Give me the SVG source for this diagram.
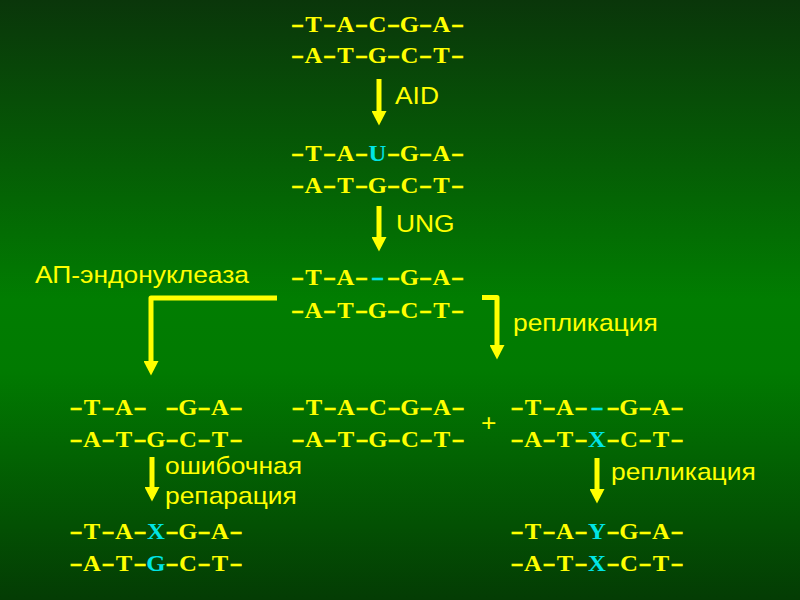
<svg xmlns="http://www.w3.org/2000/svg" width="800" height="600" viewBox="0 0 800 600">
<defs>
<linearGradient id="bg" x1="0" y1="0" x2="0" y2="1">
<stop offset="0" stop-color="#0a360a"/>
<stop offset="0.5" stop-color="#017d01"/>
<stop offset="0.62" stop-color="#017a01"/>
<stop offset="1" stop-color="#043c04"/>
</linearGradient>
<marker id="ah" markerUnits="userSpaceOnUse" markerWidth="15" markerHeight="15" viewBox="0 0 15 15" refX="0" refY="7.5" orient="auto">
<path d="M0,0 L14.5,7.5 L0,15 Z" fill="#ffff00"/>
</marker>
<style>
.dna{font-family:"Liberation Serif","Times New Roman",serif;font-weight:bold;font-size:22.5px;fill:#ffff00;text-anchor:middle}
.h{font-size:24px;stroke:#ffff00;stroke-width:0.7}
.c{fill:#00e5e5}
.h.c{stroke:#00e5e5}
.lbl{font-family:"Liberation Sans",Arial,sans-serif;font-size:24px;fill:#ffff00}
.conn{fill:none;stroke:#ffff00;stroke-width:5;stroke-linejoin:round}
</style>
</defs>
<rect width="800" height="600" fill="url(#bg)"/>
<g id="connectors">
<path class="conn" d="M379,79 V111" marker-end="url(#ah)"/>
<path class="conn" d="M379,206 V237" marker-end="url(#ah)"/>
<path class="conn" d="M277,298 H151 V361" marker-end="url(#ah)"/>
<path class="conn" d="M482,297.5 H497 V345" marker-end="url(#ah)"/>
<path class="conn" d="M152,457 V487" marker-end="url(#ah)"/>
<path class="conn" d="M597,458 V489" marker-end="url(#ah)"/>
</g>
<g id="n1">
<text class="dna" transform="translate(297.5,32) scale(1.1,1)" x="0 14.55 29.09 43.64 58.18 72.73 87.27 101.82 116.36 130.91 145.45"><tspan class="h" textLength="11.5" lengthAdjust="spacingAndGlyphs">-</tspan>T<tspan class="h" textLength="11.5" lengthAdjust="spacingAndGlyphs">-</tspan>A<tspan class="h" textLength="11.5" lengthAdjust="spacingAndGlyphs">-</tspan>C<tspan class="h" textLength="11.5" lengthAdjust="spacingAndGlyphs">-</tspan>G<tspan class="h" textLength="11.5" lengthAdjust="spacingAndGlyphs">-</tspan>A<tspan class="h" textLength="11.5" lengthAdjust="spacingAndGlyphs">-</tspan></text>
<text class="dna" transform="translate(297.5,63) scale(1.1,1)" x="0 14.55 29.09 43.64 58.18 72.73 87.27 101.82 116.36 130.91 145.45"><tspan class="h" textLength="11.5" lengthAdjust="spacingAndGlyphs">-</tspan>A<tspan class="h" textLength="11.5" lengthAdjust="spacingAndGlyphs">-</tspan>T<tspan class="h" textLength="11.5" lengthAdjust="spacingAndGlyphs">-</tspan>G<tspan class="h" textLength="11.5" lengthAdjust="spacingAndGlyphs">-</tspan>C<tspan class="h" textLength="11.5" lengthAdjust="spacingAndGlyphs">-</tspan>T<tspan class="h" textLength="11.5" lengthAdjust="spacingAndGlyphs">-</tspan></text>
</g>
<g id="l1"><text class="lbl" transform="translate(395,104) scale(1.1,1)">AID</text></g>
<g id="n2">
<text class="dna" transform="translate(297.5,161) scale(1.1,1)" x="0 14.55 29.09 43.64 58.18 72.73 87.27 101.82 116.36 130.91 145.45"><tspan class="h" textLength="11.5" lengthAdjust="spacingAndGlyphs">-</tspan>T<tspan class="h" textLength="11.5" lengthAdjust="spacingAndGlyphs">-</tspan>A<tspan class="h" textLength="11.5" lengthAdjust="spacingAndGlyphs">-</tspan><tspan class="c">U</tspan><tspan class="h" textLength="11.5" lengthAdjust="spacingAndGlyphs">-</tspan>G<tspan class="h" textLength="11.5" lengthAdjust="spacingAndGlyphs">-</tspan>A<tspan class="h" textLength="11.5" lengthAdjust="spacingAndGlyphs">-</tspan></text>
<text class="dna" transform="translate(297.5,193) scale(1.1,1)" x="0 14.55 29.09 43.64 58.18 72.73 87.27 101.82 116.36 130.91 145.45"><tspan class="h" textLength="11.5" lengthAdjust="spacingAndGlyphs">-</tspan>A<tspan class="h" textLength="11.5" lengthAdjust="spacingAndGlyphs">-</tspan>T<tspan class="h" textLength="11.5" lengthAdjust="spacingAndGlyphs">-</tspan>G<tspan class="h" textLength="11.5" lengthAdjust="spacingAndGlyphs">-</tspan>C<tspan class="h" textLength="11.5" lengthAdjust="spacingAndGlyphs">-</tspan>T<tspan class="h" textLength="11.5" lengthAdjust="spacingAndGlyphs">-</tspan></text>
</g>
<g id="l2"><text class="lbl" transform="translate(396,232) scale(1.1,1)">UNG</text></g>
<g id="n3">
<text class="dna" transform="translate(297.5,285) scale(1.1,1)" x="0 14.55 29.09 43.64 58.18 72.73 87.27 101.82 116.36 130.91 145.45"><tspan class="h" textLength="11.5" lengthAdjust="spacingAndGlyphs">-</tspan>T<tspan class="h" textLength="11.5" lengthAdjust="spacingAndGlyphs">-</tspan>A<tspan class="h" textLength="11.5" lengthAdjust="spacingAndGlyphs">-</tspan><tspan class="h c" textLength="11.5" lengthAdjust="spacingAndGlyphs">-</tspan><tspan class="h" textLength="11.5" lengthAdjust="spacingAndGlyphs">-</tspan>G<tspan class="h" textLength="11.5" lengthAdjust="spacingAndGlyphs">-</tspan>A<tspan class="h" textLength="11.5" lengthAdjust="spacingAndGlyphs">-</tspan></text>
<text class="dna" transform="translate(297.5,318) scale(1.1,1)" x="0 14.55 29.09 43.64 58.18 72.73 87.27 101.82 116.36 130.91 145.45"><tspan class="h" textLength="11.5" lengthAdjust="spacingAndGlyphs">-</tspan>A<tspan class="h" textLength="11.5" lengthAdjust="spacingAndGlyphs">-</tspan>T<tspan class="h" textLength="11.5" lengthAdjust="spacingAndGlyphs">-</tspan>G<tspan class="h" textLength="11.5" lengthAdjust="spacingAndGlyphs">-</tspan>C<tspan class="h" textLength="11.5" lengthAdjust="spacingAndGlyphs">-</tspan>T<tspan class="h" textLength="11.5" lengthAdjust="spacingAndGlyphs">-</tspan></text>
</g>
<g id="l3"><text class="lbl" transform="translate(35,283) scale(1.1,1)">АП-эндонуклеаза</text></g>
<g id="l4"><text class="lbl" transform="translate(513,331) scale(1.1,1)">репликация</text></g>
<g id="n4">
<text class="dna" transform="translate(76,415) scale(1.1,1)" x="0 14.55 29.09 43.64 58.18 72.73 87.27 101.82 116.36 130.91 145.45"><tspan class="h" textLength="11.5" lengthAdjust="spacingAndGlyphs">-</tspan>T<tspan class="h" textLength="11.5" lengthAdjust="spacingAndGlyphs">-</tspan>A<tspan class="h" textLength="11.5" lengthAdjust="spacingAndGlyphs">-</tspan> <tspan class="h" textLength="11.5" lengthAdjust="spacingAndGlyphs">-</tspan>G<tspan class="h" textLength="11.5" lengthAdjust="spacingAndGlyphs">-</tspan>A<tspan class="h" textLength="11.5" lengthAdjust="spacingAndGlyphs">-</tspan></text>
<text class="dna" transform="translate(76,447) scale(1.1,1)" x="0 14.55 29.09 43.64 58.18 72.73 87.27 101.82 116.36 130.91 145.45"><tspan class="h" textLength="11.5" lengthAdjust="spacingAndGlyphs">-</tspan>A<tspan class="h" textLength="11.5" lengthAdjust="spacingAndGlyphs">-</tspan>T<tspan class="h" textLength="11.5" lengthAdjust="spacingAndGlyphs">-</tspan>G<tspan class="h" textLength="11.5" lengthAdjust="spacingAndGlyphs">-</tspan>C<tspan class="h" textLength="11.5" lengthAdjust="spacingAndGlyphs">-</tspan>T<tspan class="h" textLength="11.5" lengthAdjust="spacingAndGlyphs">-</tspan></text>
</g>
<g id="n5">
<text class="dna" transform="translate(298,415) scale(1.1,1)" x="0 14.55 29.09 43.64 58.18 72.73 87.27 101.82 116.36 130.91 145.45"><tspan class="h" textLength="11.5" lengthAdjust="spacingAndGlyphs">-</tspan>T<tspan class="h" textLength="11.5" lengthAdjust="spacingAndGlyphs">-</tspan>A<tspan class="h" textLength="11.5" lengthAdjust="spacingAndGlyphs">-</tspan>C<tspan class="h" textLength="11.5" lengthAdjust="spacingAndGlyphs">-</tspan>G<tspan class="h" textLength="11.5" lengthAdjust="spacingAndGlyphs">-</tspan>A<tspan class="h" textLength="11.5" lengthAdjust="spacingAndGlyphs">-</tspan></text>
<text class="dna" transform="translate(298,447) scale(1.1,1)" x="0 14.55 29.09 43.64 58.18 72.73 87.27 101.82 116.36 130.91 145.45"><tspan class="h" textLength="11.5" lengthAdjust="spacingAndGlyphs">-</tspan>A<tspan class="h" textLength="11.5" lengthAdjust="spacingAndGlyphs">-</tspan>T<tspan class="h" textLength="11.5" lengthAdjust="spacingAndGlyphs">-</tspan>G<tspan class="h" textLength="11.5" lengthAdjust="spacingAndGlyphs">-</tspan>C<tspan class="h" textLength="11.5" lengthAdjust="spacingAndGlyphs">-</tspan>T<tspan class="h" textLength="11.5" lengthAdjust="spacingAndGlyphs">-</tspan></text>
</g>
<g id="plus"><text class="lbl" transform="translate(481,431) scale(1.1,1)">+</text></g>
<g id="n6">
<text class="dna" transform="translate(517,415) scale(1.1,1)" x="0 14.55 29.09 43.64 58.18 72.73 87.27 101.82 116.36 130.91 145.45"><tspan class="h" textLength="11.5" lengthAdjust="spacingAndGlyphs">-</tspan>T<tspan class="h" textLength="11.5" lengthAdjust="spacingAndGlyphs">-</tspan>A<tspan class="h" textLength="11.5" lengthAdjust="spacingAndGlyphs">-</tspan><tspan class="h c" textLength="11.5" lengthAdjust="spacingAndGlyphs">-</tspan><tspan class="h" textLength="11.5" lengthAdjust="spacingAndGlyphs">-</tspan>G<tspan class="h" textLength="11.5" lengthAdjust="spacingAndGlyphs">-</tspan>A<tspan class="h" textLength="11.5" lengthAdjust="spacingAndGlyphs">-</tspan></text>
<text class="dna" transform="translate(517,447) scale(1.1,1)" x="0 14.55 29.09 43.64 58.18 72.73 87.27 101.82 116.36 130.91 145.45"><tspan class="h" textLength="11.5" lengthAdjust="spacingAndGlyphs">-</tspan>A<tspan class="h" textLength="11.5" lengthAdjust="spacingAndGlyphs">-</tspan>T<tspan class="h" textLength="11.5" lengthAdjust="spacingAndGlyphs">-</tspan><tspan class="c">X</tspan><tspan class="h" textLength="11.5" lengthAdjust="spacingAndGlyphs">-</tspan>C<tspan class="h" textLength="11.5" lengthAdjust="spacingAndGlyphs">-</tspan>T<tspan class="h" textLength="11.5" lengthAdjust="spacingAndGlyphs">-</tspan></text>
</g>
<g id="l5"><text class="lbl" transform="translate(165,474) scale(1.1,1)">ошибочная</text><text class="lbl" transform="translate(165,504) scale(1.1,1)">репарация</text></g>
<g id="l6"><text class="lbl" transform="translate(611,480) scale(1.1,1)">репликация</text></g>
<g id="n7">
<text class="dna" transform="translate(76,539) scale(1.1,1)" x="0 14.55 29.09 43.64 58.18 72.73 87.27 101.82 116.36 130.91 145.45"><tspan class="h" textLength="11.5" lengthAdjust="spacingAndGlyphs">-</tspan>T<tspan class="h" textLength="11.5" lengthAdjust="spacingAndGlyphs">-</tspan>A<tspan class="h" textLength="11.5" lengthAdjust="spacingAndGlyphs">-</tspan><tspan class="c">X</tspan><tspan class="h" textLength="11.5" lengthAdjust="spacingAndGlyphs">-</tspan>G<tspan class="h" textLength="11.5" lengthAdjust="spacingAndGlyphs">-</tspan>A<tspan class="h" textLength="11.5" lengthAdjust="spacingAndGlyphs">-</tspan></text>
<text class="dna" transform="translate(76,571) scale(1.1,1)" x="0 14.55 29.09 43.64 58.18 72.73 87.27 101.82 116.36 130.91 145.45"><tspan class="h" textLength="11.5" lengthAdjust="spacingAndGlyphs">-</tspan>A<tspan class="h" textLength="11.5" lengthAdjust="spacingAndGlyphs">-</tspan>T<tspan class="h" textLength="11.5" lengthAdjust="spacingAndGlyphs">-</tspan><tspan class="c">G</tspan><tspan class="h" textLength="11.5" lengthAdjust="spacingAndGlyphs">-</tspan>C<tspan class="h" textLength="11.5" lengthAdjust="spacingAndGlyphs">-</tspan>T<tspan class="h" textLength="11.5" lengthAdjust="spacingAndGlyphs">-</tspan></text>
</g>
<g id="n8">
<text class="dna" transform="translate(517,539) scale(1.1,1)" x="0 14.55 29.09 43.64 58.18 72.73 87.27 101.82 116.36 130.91 145.45"><tspan class="h" textLength="11.5" lengthAdjust="spacingAndGlyphs">-</tspan>T<tspan class="h" textLength="11.5" lengthAdjust="spacingAndGlyphs">-</tspan>A<tspan class="h" textLength="11.5" lengthAdjust="spacingAndGlyphs">-</tspan><tspan class="c">Y</tspan><tspan class="h" textLength="11.5" lengthAdjust="spacingAndGlyphs">-</tspan>G<tspan class="h" textLength="11.5" lengthAdjust="spacingAndGlyphs">-</tspan>A<tspan class="h" textLength="11.5" lengthAdjust="spacingAndGlyphs">-</tspan></text>
<text class="dna" transform="translate(517,571) scale(1.1,1)" x="0 14.55 29.09 43.64 58.18 72.73 87.27 101.82 116.36 130.91 145.45"><tspan class="h" textLength="11.5" lengthAdjust="spacingAndGlyphs">-</tspan>A<tspan class="h" textLength="11.5" lengthAdjust="spacingAndGlyphs">-</tspan>T<tspan class="h" textLength="11.5" lengthAdjust="spacingAndGlyphs">-</tspan><tspan class="c">X</tspan><tspan class="h" textLength="11.5" lengthAdjust="spacingAndGlyphs">-</tspan>C<tspan class="h" textLength="11.5" lengthAdjust="spacingAndGlyphs">-</tspan>T<tspan class="h" textLength="11.5" lengthAdjust="spacingAndGlyphs">-</tspan></text>
</g>
</svg>
